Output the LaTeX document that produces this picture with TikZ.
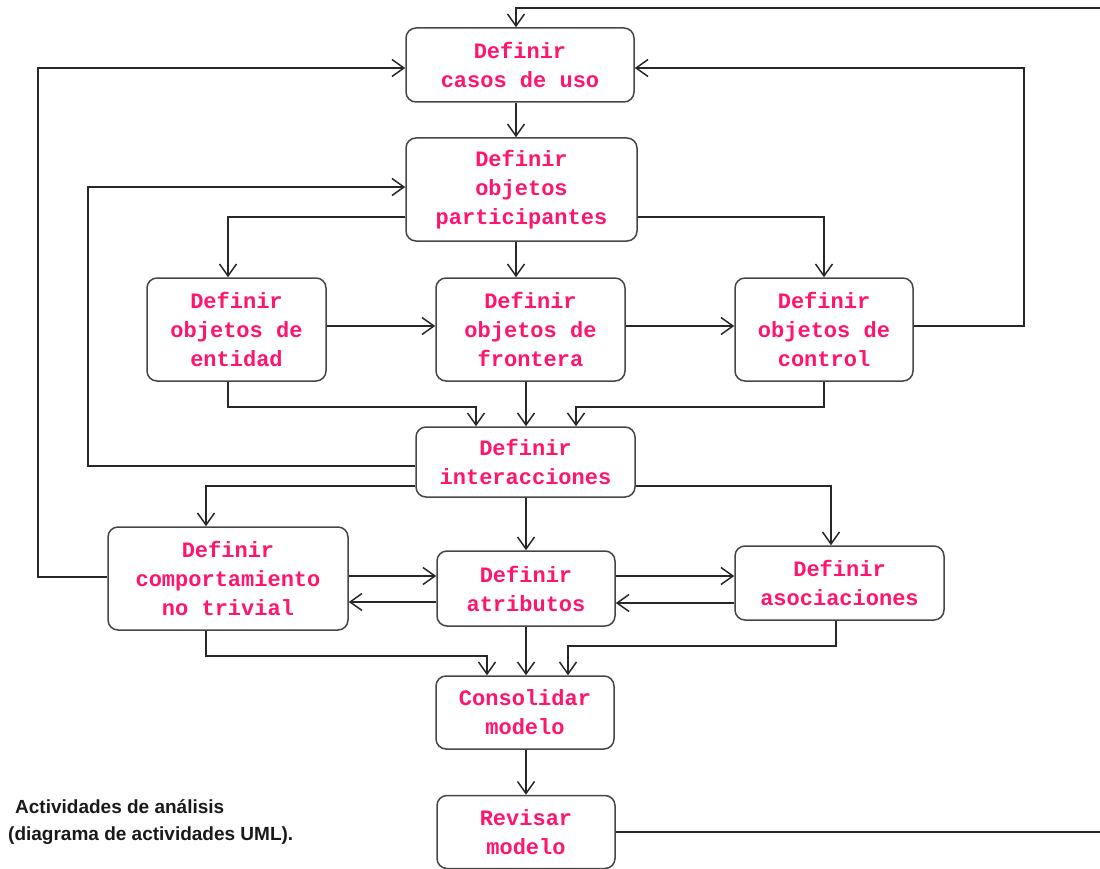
\documentclass[tikz,border=0pt]{standalone}
\usepackage{fontspec}
\setmainfont{Liberation Sans}
\newfontfamily\actfont{Liberation Mono}
\usetikzlibrary{arrows.meta,calc}
\definecolor{txtpink}{RGB}{255,20,110}
\definecolor{linegray}{RGB}{40,40,40}
\definecolor{boxgray}{RGB}{70,70,70}
\begin{document}
\begin{tikzpicture}[x=1pt,y=-1pt,
  act/.style={draw=boxgray, line width=1.5pt, rounded corners=10pt, fill=white,
    align=center, font=\actfont\bfseries\fontsize{22}{29}\selectfont,
    text=txtpink, inner sep=0pt},
  conn/.style={draw=linegray, line width=1.5pt},
  arr/.style={conn, -{Straight Barb[length=12pt,width=17pt]}},
  caption/.style={align=left, anchor=base west, inner sep=0pt,
    font=\bfseries\fontsize{19}{27}\selectfont, text=black!90}]
\useasboundingbox (0,0) rectangle (1100,869);
\begin{scope}
\clip (0,0) rectangle (1100,869);

\node[act, minimum width=228, minimum height=74]  (casos)   at (520,65)    {Definir\\casos de uso};
\node[act, minimum width=231, minimum height=103] (partic)  at (521.5,189.5) {Definir\\objetos\\participantes};
\node[act, minimum width=179, minimum height=103] (entid)   at (236.5,329.5) {Definir\\objetos de\\entidad};
\node[act, minimum width=189, minimum height=103] (front)   at (530.5,329.5) {Definir\\objetos de\\frontera};
\node[act, minimum width=178, minimum height=103] (contr)   at (824,329.5)   {Definir\\objetos de\\control};
\node[act, minimum width=219, minimum height=70]  (inter)   at (525.5,462)   {Definir\\interacciones};
\node[act, minimum width=240, minimum height=103] (comport) at (228,578.5)   {Definir\\comportamiento\\no trivial};
\node[act, minimum width=178, minimum height=75]  (atrib)   at (526,588.5)   {Definir\\atributos};
\node[act, minimum width=209, minimum height=74]  (asoc)    at (839.5,583)   {Definir\\asociaciones};
\node[act, minimum width=178, minimum height=73]  (consol)  at (525,712.5)   {Consolidar\\modelo};
\node[act, minimum width=178, minimum height=73]  (revis)   at (526,832)     {Revisar\\modelo};

% feedback loops
\draw[arr] (revis.east) -- (1110,832) |- (516,8) -- ($(casos.north)+(-4,0)$);
\draw[arr] ($(comport.west)+(0,-1.5)$) -- (38,577) |- ($(casos.west)+(0,3)$);
\draw[arr] ($(contr.east)+(0,-3.5)$) -- (1024,326) |- ($(casos.east)+(0,3)$);
\draw[arr] ($(inter.west)+(0,4)$) -- (88,466) |- ($(partic.west)+(0,-2.5)$);

% main flow
\draw[arr] ($(casos.south)+(-4,0)$) -- ($(partic.north)+(-5.5,0)$);
\draw[arr] ($(partic.west)+(0,27.5)$) -| ($(entid.north)+(-8.5,0)$);
\draw[arr] ($(partic.south)+(-5.5,0)$) -- ($(front.north)+(-14.5,0)$);
\draw[arr] ($(partic.east)+(0,27.5)$) -| (contr.north);
\draw[arr] ($(entid.east)+(0,-3.5)$) -- ($(front.west)+(0,-3.5)$);
\draw[arr] ($(front.east)+(0,-3.5)$) -- ($(contr.west)+(0,-3.5)$);
\draw[arr] ($(entid.south)+(-8.5,0)$) -- (228,407) -| ($(inter.north)+(-49.5,0)$);
\draw[arr] ($(front.south)+(-4.5,0)$) -- ($(inter.north)+(0.5,0)$);
\draw[arr] (contr.south) -- (824,407) -| ($(inter.north)+(50.5,0)$);
\draw[arr] ($(inter.west)+(0,24)$) -| ($(comport.north)+(-22,0)$);
\draw[arr] ($(inter.east)+(0,24)$) -| ($(asoc.north)+(-8.5,0)$);
\draw[arr] ($(inter.south)+(0.5,0)$) -- (atrib.north);
\draw[arr] ($(comport.east)+(0,-2.5)$) -- ($(atrib.west)+(0,-12.5)$);
\draw[arr] ($(atrib.west)+(0,13.5)$) -- ($(comport.east)+(0,23.5)$);
\draw[arr] ($(atrib.east)+(0,-12.5)$) -- ($(asoc.west)+(0,-7)$);
\draw[arr] ($(asoc.west)+(0,20)$) -- ($(atrib.east)+(0,14.5)$);
\draw[arr] ($(comport.south)+(-22,0)$) -- (206,656) -| ($(consol.north)+(-38,0)$);
\draw[arr] (atrib.south) -- ($(consol.north)+(1,0)$);
\draw[arr] ($(asoc.south)+(-3.5,0)$) -- (836,646) -| ($(consol.north)+(43,0)$);
\draw[arr] ($(consol.south)+(1,0)$) -- (revis.north);

\node[caption] (cap) at (8,840) {\hspace*{7pt}Actividades de análisis\\(diagrama de actividades UML).};
\end{scope}
\end{tikzpicture}
\end{document}
